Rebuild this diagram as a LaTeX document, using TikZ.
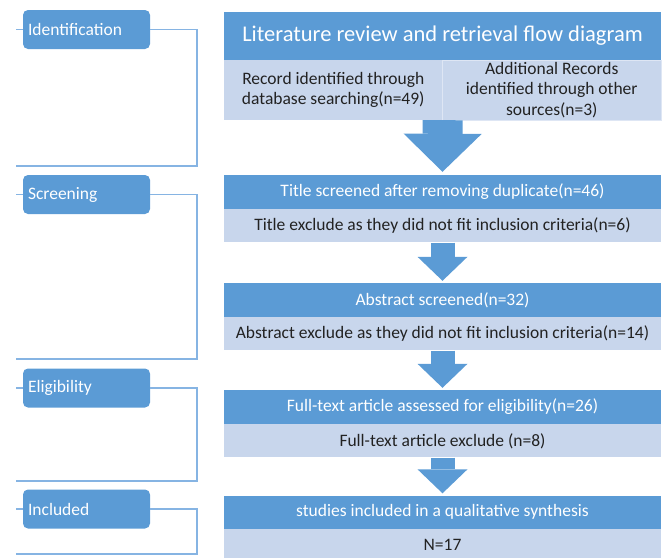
\documentclass[tikz,border=0pt]{standalone}
\usepackage{fontspec}
\setmainfont{Carlito}
\usetikzlibrary{arrows.meta,positioning}
\definecolor{prblue}{HTML}{5B9BD5}
\definecolor{prlight}{HTML}{C8D6EC}
\definecolor{prline}{HTML}{86B4E3}
\definecolor{prtext}{HTML}{222222}

\begin{document}
\begin{tikzpicture}[x=1pt, y=-1pt,
    every node/.style={font=\fontsize{17.5}{20.5}\selectfont},
    stagebox/.style={rectangle, rounded corners=5pt, fill=prblue, text=white, minimum width=127pt, minimum height=39pt, text width=117pt, align=left, inner sep=5pt},
    darkband/.style={rectangle, fill=prblue, text=white, minimum width=437pt, minimum height=34pt, inner sep=0pt},
    lightband/.style={rectangle, fill=prlight, text=prtext, minimum width=437pt, minimum height=33pt, inner sep=0pt},
    bracket/.style={draw=prline, line width=1.2pt},
    flowarrow/.style={draw=prblue, line width=24pt, -{Triangle[width=50pt, length=24pt, line width=0pt]}, shorten >=2pt},
    bigarrow/.style={draw=prblue, line width=40pt, -{Triangle[width=78pt, length=38pt, line width=0pt]}, shorten >=3pt}]
    \useasboundingbox (0,0) rectangle (666,557);

    % stages on the left
    \node[stagebox] (idstage) at (86.5,29.5) {Identification};
    \node[stagebox] (scrstage) at (86.5,194.5) {Screening};
    \node[stagebox] (elistage) at (86.5,388) {Eligibility};
    \node[stagebox] (incstage) at (86.5,509) {Included};

    \coordinate (idtick) at (16,29.5);
    \coordinate (idturn) at (197,166);
    \coordinate (idend) at (16,166);
    \coordinate (scrtick) at (16,194.5);
    \coordinate (scrturn) at (197,359);
    \coordinate (scrend) at (16,359);
    \coordinate (elitick) at (16,388);
    \coordinate (eliturn) at (197,481);
    \coordinate (eliend) at (16,481);
    \coordinate (inctick) at (16,509);
    \coordinate (incturn) at (197,554);
    \coordinate (incend) at (16,554);

    \draw[bracket] (idtick) -- (idstage.west);
    \draw[bracket] (idstage.east) -| (idturn) -- (idend);
    \draw[bracket] (scrtick) -- (scrstage.west);
    \draw[bracket] (scrstage.east) -| (scrturn) -- (scrend);
    \draw[bracket] (elitick) -- (elistage.west);
    \draw[bracket] (elistage.east) -| (eliturn) -- (eliend);
    \draw[bracket] (inctick) -- (incstage.west);
    \draw[bracket] (incstage.east) -| (incturn) -- (incend);

    % flow on the right
    \node[darkband, minimum height=48pt, font=\fontsize{22.5}{26}\selectfont] (title) at (442.5,36) {Literature review and retrieval flow diagram};
    \node[lightband, minimum width=218.5pt, minimum height=60pt, align=center] (recdb) at (333.25,90) {Record identified through\\database searching(n=49)};
    \node[lightband, minimum width=218.5pt, minimum height=60pt, align=center, draw=white!40!prlight, line width=0.8pt] (recother) at (551.75,90) {Additional Records\\identified through other\\sources(n=3)};

    \node[darkband] (titlescr) at (442.5,192) {Title screened after removing duplicate(n=46)};
    \node[lightband, below=0pt of titlescr] (titleexc) {Title exclude as they did not fit inclusion criteria(n=6)};

    \node[darkband] (absscr) at (442.5,300) {Abstract screened(n=32)};
    \node[lightband, below=0pt of absscr] (absexc) {Abstract exclude as they did not fit inclusion criteria(n=14)};

    \node[darkband] (fullscr) at (442.5,407) {Full-text article assessed for eligibility(n=26)};
    \node[lightband, below=0pt of fullscr] (fullexc) {Full-text article exclude (n=8)};

    \node[darkband, minimum height=33pt] (studies) at (442.5,512) {studies included in a qualitative synthesis};
    \node[lightband, below=0pt of studies, minimum height=32pt] (total) {N=17};

    \draw[bigarrow] (recdb.south east) -- (titlescr.north);
    \draw[flowarrow] (titleexc) -- (absscr);
    \draw[flowarrow] (absexc) -- (fullscr);
    \draw[flowarrow] (fullexc) -- (studies);
\end{tikzpicture}
\end{document}
